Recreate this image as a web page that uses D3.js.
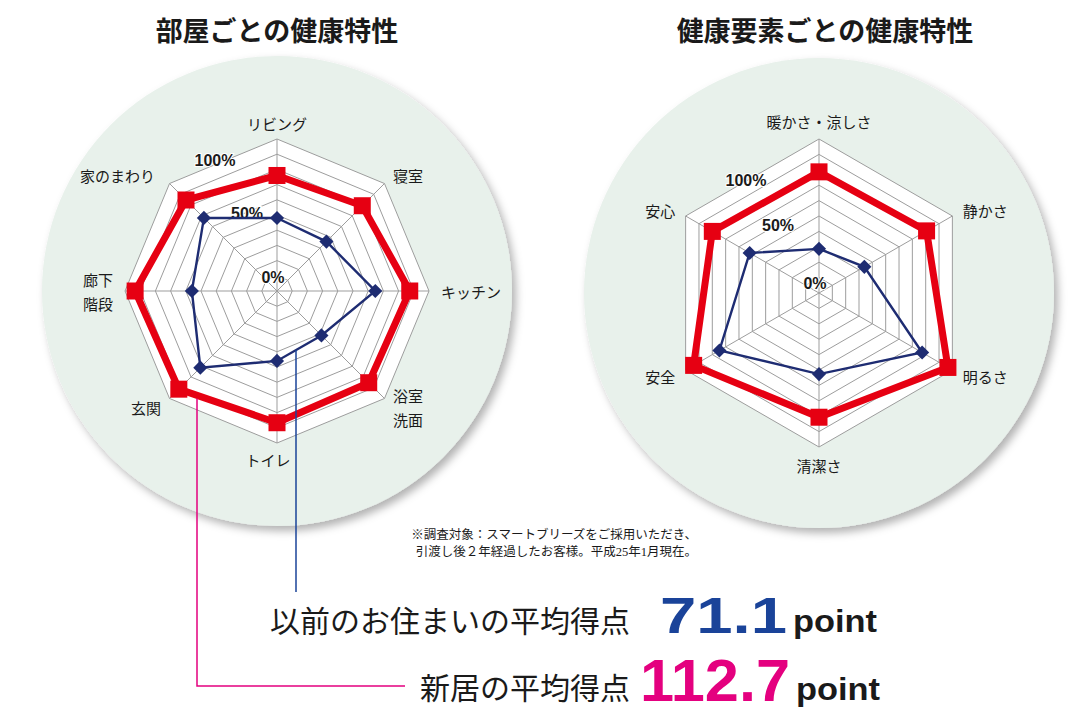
<!DOCTYPE html>
<html>
<head>
<meta charset="utf-8">
<style>
    body { margin: 0; background: #fff; }
    svg text { font-family: "Noto Sans CJK JP", sans-serif; fill: #1a1a1a; }
    .title { font-size: 27px; font-weight: bold; text-anchor: middle; }
    .axis-label { font-size: 15px; }
    .pct { font-family: "Liberation Sans", Arial, sans-serif; font-size: 16px; font-weight: bold;
           text-anchor: middle; stroke: #fff; stroke-width: 2px; paint-order: stroke; }
    .note { font-family: "Liberation Serif", "Noto Sans CJK JP", serif; font-size: 12.5px; text-anchor: end; }
    .caption { font-size: 30px; }
    .score { font-family: "Liberation Sans", Arial, sans-serif; font-weight: bold; }
    .unit { font-family: "Liberation Sans", Arial, sans-serif; font-weight: bold; font-size: 31px; }
</style>
<script src="https://d3js.org/d3.v7.min.js"></script>
</head>
<body>
<svg width="1089" height="725"></svg>
<script>
// ---- data ----
var roomLabels = ["リビング", "寝室", "キッチン", "浴室\n洗面", "トイレ", "玄関", "廊下\n階段", "家のまわり"];
var roomNew = [114, 119, 131, 128, 130, 137, 140, 127];
var roomOld = [72, 69, 97, 62, 69, 107, 84, 102];

var factorLabels = ["暖かさ・涼しさ", "静かさ", "明るさ", "清潔さ", "安全", "安心"];
var factorNew = [118, 121, 145, 121, 141, 120];
var factorOld = [43, 51, 116, 79, 112, 78];

var pctLabels = ["0%", "50%", "100%"];
var maxValue = 150, ringCount = 10;
var avgOld = "71.1", avgNew = "112.7";

var RED = "#e60012", NAVY = "#1e2c72", BLUE = "#1a4399", MAGENTA = "#e4007f";

var svg = d3.select("svg");

var defs = svg.append("defs");
defs.append("filter").attr("id", "shadow")
    .attr("x", "-10%").attr("y", "-10%").attr("width", "130%").attr("height", "130%")
    .append("feDropShadow")
    .attr("dx", 4).attr("dy", 5).attr("stdDeviation", 4)
    .attr("flood-color", "#000").attr("flood-opacity", 0.3);

function drawRadar(cfg) {
    var n = cfg.labels.length;
    var g = svg.append("g").attr("transform", "translate(" + cfg.cx + "," + cfg.cy + ")");
    var r = d3.scaleLinear().domain([0, maxValue]).range([0, cfg.radius]);
    var angle = d3.scaleLinear().domain([0, n]).range([0, 2 * Math.PI]);
    var idx = d3.range(n);

    function pt(i, v) {
        var a = angle(i);
        return [r(v) * Math.sin(a), -r(v) * Math.cos(a)];
    }
    var radial = d3.lineRadial()
        .angle(function (d, i) { return angle(i); })
        .radius(function (d) { return r(d); })
        .curve(d3.curveLinearClosed);

    g.append("circle").attr("r", cfg.bgRadius).attr("fill", "#e8f1eb").attr("filter", "url(#shadow)");

    // grid
    g.append("path").attr("d", radial(idx.map(function () { return maxValue; })))
        .attr("fill", "#fff");
    d3.range(1, ringCount + 1).forEach(function (k) {
        g.append("path")
            .attr("d", radial(idx.map(function () { return maxValue * k / ringCount; })))
            .attr("fill", "none").attr("stroke", "#9d9d9d").attr("stroke-width", 1);
    });
    g.selectAll(".spoke").data(idx).enter().append("line")
        .attr("x1", 0).attr("y1", 0)
        .attr("x2", function (i) { return pt(i, maxValue)[0]; })
        .attr("y2", function (i) { return pt(i, maxValue)[1]; })
        .attr("stroke", "#9d9d9d").attr("stroke-width", 1);

    // percent labels
    g.selectAll(".pct").data(pctLabels).enter().append("text")
        .attr("class", "pct")
        .attr("x", function (d, i) { return cfg.pctPos[i][0]; })
        .attr("y", function (d, i) { return cfg.pctPos[i][1]; })
        .attr("dominant-baseline", "central")
        .text(function (d) { return d; });

    // new home (red)
    g.append("path").attr("d", radial(cfg.newValues))
        .attr("fill", "none").attr("stroke", RED).attr("stroke-width", 7).attr("stroke-linejoin", "miter");
    g.selectAll(".sq").data(cfg.newValues).enter().append("rect")
        .attr("x", function (d, i) { return pt(i, d)[0] - 8.5; })
        .attr("y", function (d, i) { return pt(i, d)[1] - 8.5; })
        .attr("width", 17).attr("height", 17).attr("fill", RED);

    // previous home (navy)
    g.append("path").attr("d", radial(cfg.oldValues))
        .attr("fill", "none").attr("stroke", NAVY).attr("stroke-width", 2.4);
    g.selectAll(".dm").data(cfg.oldValues).enter().append("rect")
        .attr("width", 10).attr("height", 10).attr("x", -5).attr("y", -5)
        .attr("transform", function (d, i) { var p = pt(i, d); return "translate(" + p[0] + "," + p[1] + ") rotate(45)"; })
        .attr("fill", NAVY);

    // axis labels
    g.selectAll(".axis-label").data(cfg.labels).enter().append("text")
        .attr("class", "axis-label")
        .each(function (d, i) {
            var s = Math.sin(angle(i));
            var side = Math.abs(s) > 0.1;
            var p = pt(i, maxValue + (side ? cfg.sidePad : cfg.endPad) * maxValue / cfg.radius);
            var shift = (cfg.labelShift && cfg.labelShift[i]) || 0;
            var lines = d.split("\n");
            var t = d3.select(this)
                .attr("text-anchor", !side ? "middle" : (s > 0 ? "start" : "end"))
                .attr("dominant-baseline", "central");
            lines.forEach(function (ln, k) {
                t.append("tspan").attr("x", p[0] + shift)
                    .attr("y", p[1] + (k - (lines.length - 1) / 2) * 24)
                    .text(ln);
            });
        });

    return { pt: pt, cx: cfg.cx, cy: cfg.cy };
}

var left = drawRadar({
    cx: 277, cy: 291, radius: 152, bgRadius: 235,
    labels: roomLabels, newValues: roomNew, oldValues: roomOld,
    sidePad: 12, endPad: 16, labelShift: { 4: -9, 7: -6 },
    pctPos: [[-4, -14], [-30, -78], [-62, -131]]
});
var right = drawRadar({
    cx: 819, cy: 293, radius: 154, bgRadius: 235,
    labels: factorLabels, newValues: factorNew, oldValues: factorOld,
    sidePad: 12, endPad: 18,
    pctPos: [[-4, -10], [-41, -68], [-73, -113]]
});

// titles
svg.append("text").attr("class", "title").attr("x", 277).attr("y", 41).text("部屋ごとの健康特性");
svg.append("text").attr("class", "title").attr("x", 825).attr("y", 41).text("健康要素ごとの健康特性");

// connector lines: attach to a polygon edge at a given x
function edgeY(chart, values, i, j, x) {
    var a = chart.pt(i, values[i]), b = chart.pt(j, values[j]);
    var lx = x - chart.cx;
    var t = (lx - a[0]) / (b[0] - a[0]);
    return chart.cy + a[1] + t * (b[1] - a[1]);
}
var blueX = 296, redX = 197;
svg.append("path")
    .attr("d", d3.line()([[blueX, edgeY(left, roomOld, 3, 4, blueX)], [blueX, 592]]))
    .attr("fill", "none").attr("stroke", BLUE).attr("stroke-width", 1.5);
svg.append("path")
    .attr("d", d3.line()([[redX, edgeY(left, roomNew, 4, 5, redX) + 3], [redX, 686], [405, 686]]))
    .attr("fill", "none").attr("stroke", MAGENTA).attr("stroke-width", 1.5);

// note
svg.append("text").attr("class", "note").attr("x", 697).attr("y", 539)
    .text("※調査対象：スマートブリーズをご採用いただき、");
svg.append("text").attr("class", "note").attr("x", 697).attr("y", 556)
    .text("引渡し後２年経過したお客様。平成25年1月現在。");

// averages
svg.append("text").attr("class", "caption").attr("x", 270).attr("y", 632).text("以前のお住まいの平均得点");
svg.append("text").attr("class", "score").attr("x", 660).attr("y", 633)
    .attr("font-size", 50).attr("textLength", 127).attr("lengthAdjust", "spacingAndGlyphs")
    .style("fill", BLUE).text(avgOld);
svg.append("text").attr("class", "unit").attr("x", 793).attr("y", 632)
    .attr("textLength", 84).attr("lengthAdjust", "spacingAndGlyphs").text("point");

svg.append("text").attr("class", "caption").attr("x", 420).attr("y", 699).text("新居の平均得点");
svg.append("text").attr("class", "score").attr("x", 640).attr("y", 701)
    .attr("font-size", 60).attr("textLength", 150).attr("lengthAdjust", "spacingAndGlyphs")
    .style("fill", MAGENTA).text(avgNew);
svg.append("text").attr("class", "unit").attr("x", 796).attr("y", 700)
    .attr("textLength", 84).attr("lengthAdjust", "spacingAndGlyphs").text("point");
</script>
</body>
</html>
